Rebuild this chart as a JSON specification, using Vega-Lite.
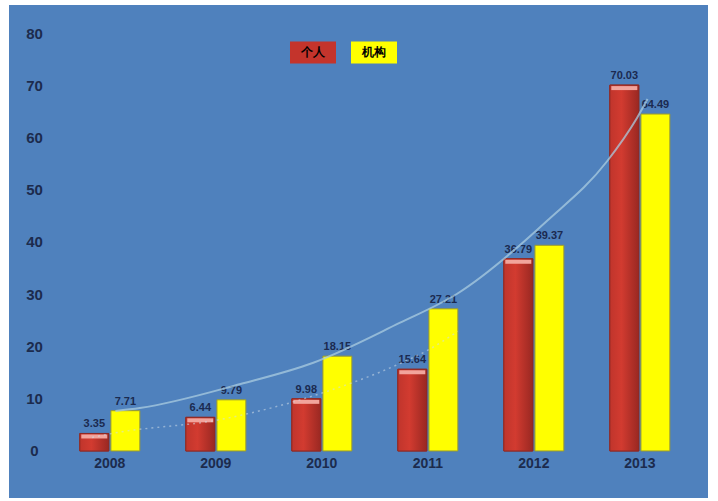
{
  "$schema": "https://vega.github.io/schema/vega-lite/v6.json",
  "width": 699,
  "height": 493,
  "autosize": {"type": "none"},
  "padding": {"left": 9, "top": 5, "right": 10, "bottom": 3},
  "background": "white",
  "config": {
    "view": {"fill": "#4f81bd", "stroke": null},
    "axis": {"grid": false},
    "font": "Liberation Sans"
  },
  "datasets": {
    "bars": [
      {"year": "2008", "series": "个人", "value": 3.35},
      {"year": "2008", "series": "机构", "value": 7.71},
      {"year": "2009", "series": "个人", "value": 6.44},
      {"year": "2009", "series": "机构", "value": 9.79},
      {"year": "2010", "series": "个人", "value": 9.98},
      {"year": "2010", "series": "机构", "value": 18.15},
      {"year": "2011", "series": "个人", "value": 15.64},
      {"year": "2011", "series": "机构", "value": 27.21},
      {"year": "2012", "series": "个人", "value": 36.79},
      {"year": "2012", "series": "机构", "value": 39.37},
      {"year": "2013", "series": "个人", "value": 70.03},
      {"year": "2013", "series": "机构", "value": 64.49}
    ],
    "trend": [
      {"line": "upper", "t": 2008.07, "value": 7.66},
      {"line": "upper", "t": 2008.30, "value": 8.23},
      {"line": "upper", "t": 2009.25, "value": 12.82},
      {"line": "upper", "t": 2009.93, "value": 16.84},
      {"line": "upper", "t": 2010.75, "value": 24.5},
      {"line": "upper", "t": 2011.29, "value": 30.05},
      {"line": "upper", "t": 2012.14, "value": 44.02},
      {"line": "upper", "t": 2012.71, "value": 55.5},
      {"line": "upper", "t": 2012.99, "value": 63.73},
      {"line": "upper", "t": 2013.09, "value": 67.37},
      {"line": "lower", "t": 2007.85, "value": 2.6},
      {"line": "lower", "t": 2008.05, "value": 3.4},
      {"line": "lower", "t": 2009.08, "value": 6.1},
      {"line": "lower", "t": 2009.99, "value": 10.9},
      {"line": "lower", "t": 2010.75, "value": 16.7},
      {"line": "lower", "t": 2011.0, "value": 19.1},
      {"line": "lower", "t": 2011.3, "value": 22.9}
    ]
  },
  "resolve": {"scale": {"x": "independent"}},
  "layer": [
    {
      "layer": [
        {
          "data": {"name": "bars"},
          "mark": {"type": "bar", "strokeWidth": 1},
          "encoding": {
            "x": {
              "field": "year",
              "type": "nominal",
              "scale": {"paddingInner": 0.434, "paddingOuter": 0.514, "align": 0.65},
              "axis": {
                "orient": "bottom",
                "offset": -47,
                "title": null,
                "domain": false,
                "ticks": false,
                "labelAngle": 0,
                "labelPadding": 5,
                "labelFontSize": 14,
                "labelFontWeight": "bold",
                "labelColor": "#1c2b4d"
              }
            },
            "xOffset": {"field": "series", "type": "nominal", "scale": {"paddingInner": 0.07}},
            "y": {
              "field": "value",
              "type": "quantitative",
              "scale": {"domain": [-9.0, 85.36], "nice": false, "zero": false},
              "axis": {
                "orient": "left",
                "offset": -47,
                "title": null,
                "domain": false,
                "ticks": false,
                "values": [0, 10, 20, 30, 40, 50, 60, 70, 80],
                "labelAlign": "center",
                "labelPadding": 22,
                "labelFontSize": 15,
                "labelFontWeight": "bold",
                "labelColor": "#1c2b4d"
              }
            },
            "y2": {"datum": 0},
            "color": {
              "field": "series",
              "type": "nominal",
              "scale": {"domain": ["个人", "机构"], "range": ["#c4342c", "#ffff00"]},
              "legend": {
                "orient": "none",
                "legendX": 281,
                "legendY": 24,
                "direction": "horizontal",
                "title": null,
                "padding": 0,
                "symbolType": "M-1,-0.48H1V0.48H-1Z",
                "symbolSize": 2116,
                "symbolStrokeWidth": 0,
                "symbolOpacity": 1,
                "labelOffset": -23,
                "labelAlign": "center",
                "columnPadding": 15,
                "labelFontSize": 12,
                "labelFontWeight": "bold",
                "encode": {
                  "labels": {
                    "update": {
                      "fill": [
                        {"test": "datum.value === '个人' || datum.label === '个人'", "value": "#f6d3cf"},
                        {"value": "#2a2a2a"}
                      ]
                    }
                  }
                }
              }
            },
            "stroke": {
              "condition": {"test": "datum.series === '个人'", "value": "#8e2a24"},
              "value": "#9a9a30"
            }
          }
        },
        {
          "data": {"name": "bars"},
          "transform": [{"filter": "datum.series === '个人'"}],
          "mark": {
            "type": "bar",
            "stroke": "#8e2a24",
            "strokeWidth": 1,
            "fill": {
              "gradient": "linear",
              "x1": 0, "y1": 0, "x2": 1, "y2": 0,
              "stops": [
                {"offset": 0, "color": "#c0352c"},
                {"offset": 0.4, "color": "#d23b30"},
                {"offset": 1, "color": "#9a2822"}
              ]
            }
          },
          "encoding": {
            "x": {"field": "year", "type": "nominal"},
            "xOffset": {"field": "series", "type": "nominal"},
            "y": {"field": "value", "type": "quantitative"},
            "y2": {"datum": 0}
          }
        },
        {
          "data": {"name": "bars"},
          "transform": [{"filter": "datum.series === '个人'"}],
          "mark": {"type": "tick", "color": "#f2a49c", "thickness": 4, "size": 26, "yOffset": 3, "opacity": 1},
          "encoding": {
            "x": {"field": "year", "type": "nominal"},
            "xOffset": {"field": "series", "type": "nominal"},
            "y": {"field": "value", "type": "quantitative"}
          }
        },
        {
          "data": {"name": "bars"},
          "mark": {"type": "text", "baseline": "bottom", "dy": -4, "fontSize": 11, "fontWeight": "bold", "color": "#1b2a50"},
          "encoding": {
            "x": {"field": "year", "type": "nominal"},
            "xOffset": {"field": "series", "type": "nominal"},
            "y": {"field": "value", "type": "quantitative"},
            "text": {"field": "value", "type": "quantitative", "format": ".2f"}
          }
        }
      ]
    },
    {
      "layer": [
        {
          "data": {"name": "trend"},
          "transform": [{"filter": "datum.line === 'lower'"}],
          "mark": {"type": "line", "color": "#d0dce8", "strokeWidth": 1.5, "strokeDash": [2, 4], "opacity": 0.55, "interpolate": "monotone"},
          "encoding": {
            "x": {"field": "t", "type": "quantitative", "scale": {"domain": [2007.066, 2013.66], "nice": false, "zero": false}, "axis": null},
            "y": {"field": "value", "type": "quantitative"}
          }
        },
        {
          "data": {"name": "trend"},
          "transform": [{"filter": "datum.line === 'upper'"}],
          "mark": {"type": "line", "color": "#a9cce0", "strokeWidth": 2, "opacity": 0.75, "interpolate": "monotone"},
          "encoding": {
            "x": {"field": "t", "type": "quantitative", "scale": {"domain": [2007.066, 2013.66], "nice": false, "zero": false}, "axis": null},
            "y": {"field": "value", "type": "quantitative"}
          }
        }
      ]
    }
  ]
}
